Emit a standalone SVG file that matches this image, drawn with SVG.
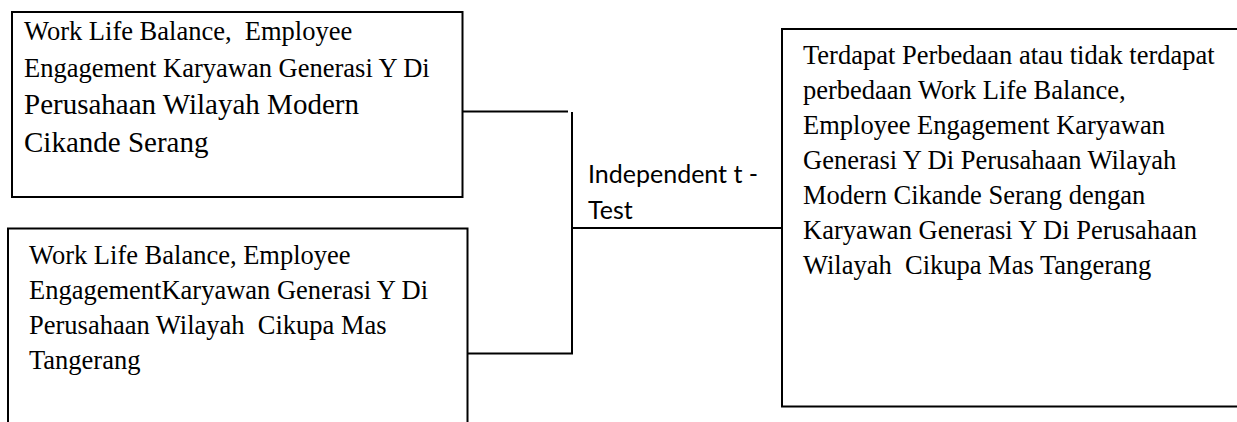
<svg xmlns="http://www.w3.org/2000/svg" width="1237" height="422" viewBox="0 0 1237 422">
<style>
.box{fill:#fff;stroke:#000;stroke-width:2}
.t{font-family:"Liberation Serif","Times New Roman",serif;fill:#000;white-space:pre}
.s1{font-size:26.5px}
.s2{font-size:29px}
.lbl{font-family:Lato,"Open Sans",sans-serif;font-size:25px;fill:#000}
.con{stroke:#000;stroke-width:2;fill:none}
</style>
<rect width="1237" height="422" fill="#fff"/>
<g id="connectors">
<line class="con" x1="462" y1="111.5" x2="568" y2="111.5"/>
<line class="con" x1="572" y1="112" x2="572" y2="354"/>
<line class="con" x1="467" y1="353.5" x2="573" y2="353.5"/>
<line class="con" x1="571" y1="228" x2="782" y2="228"/>
</g>
<g id="node1">
<rect class="box" x="12" y="12" width="450.5" height="185"/>
<text class="t s1" x="24" y="40" xml:space="preserve">Work Life Balance,  Employee</text>
<text class="t s1" x="24" y="77">Engagement Karyawan Generasi Y Di</text>
<text class="t s2" x="24" y="114">Perusahaan Wilayah Modern</text>
<text class="t s2" x="24" y="152">Cikande Serang</text>
</g>
<g id="node2">
<rect class="box" x="8" y="228.5" width="459.5" height="210"/>
<text class="t s1" x="29" y="264">Work Life Balance, Employee</text>
<text class="t s1" x="29" y="299">EngagementKaryawan Generasi Y Di</text>
<text class="t s1" x="29" y="334" xml:space="preserve">Perusahaan Wilayah  Cikupa Mas</text>
<text class="t s1" x="29" y="369">Tangerang</text>
</g>
<g id="node3">
<rect class="box" x="782" y="29" width="470" height="377.5"/>
<text class="t s1" x="803" y="64">Terdapat Perbedaan atau tidak terdapat</text>
<text class="t s1" x="803" y="99">perbedaan Work Life Balance,</text>
<text class="t s1" x="803" y="134">Employee Engagement Karyawan</text>
<text class="t s1" x="803" y="169">Generasi Y Di Perusahaan Wilayah</text>
<text class="t s1" x="803" y="204">Modern Cikande Serang dengan</text>
<text class="t s1" x="803" y="239">Karyawan Generasi Y Di Perusahaan</text>
<text class="t s1" x="803" y="274" xml:space="preserve">Wilayah  Cikupa Mas Tangerang</text>
</g>
<g id="label">
<text class="lbl" x="588" y="183">Independent t -</text>
<text class="lbl" x="588" y="219">Test</text>
</g>
</svg>
